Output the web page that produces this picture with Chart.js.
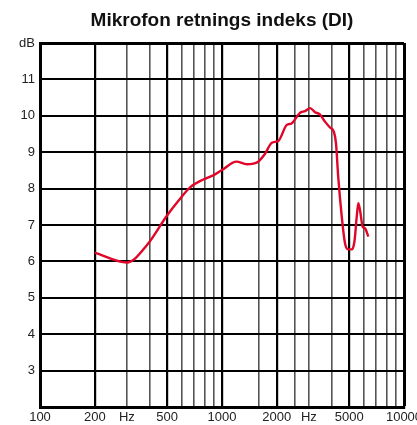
<!DOCTYPE html>
<html>
<head>
<meta charset="utf-8">
<script src="https://cdn.jsdelivr.net/npm/chart.js@4/dist/chart.umd.min.js"></script>
<style>
  html, body { margin: 0; padding: 0; background: #fff; }
  #wrap { width: 417px; height: 425px; }
</style>
</head>
<body>
<div id="wrap"><canvas id="diChart" width="417" height="425"></canvas></div>
<script>
'use strict';

// ── data ──
const freqHz = [200, 300, 390, 500, 590, 670, 790, 900, 1000, 1200, 1370, 1580, 1720, 1880,
                2040, 2270, 2410, 2680, 2860, 3050, 3240, 3450, 3680, 3920, 4120, 4230, 4350,
                4550, 4740, 4950, 5160, 5340, 5500, 5610, 5730, 5930, 6100, 6370];
const diDb   = [6.24, 5.97, 6.47, 7.27, 7.73, 8.04, 8.25, 8.37, 8.51, 8.74, 8.67, 8.74, 8.95, 9.26,
                9.31, 9.75, 9.79, 10.08, 10.13, 10.21, 10.10, 10.04, 9.84, 9.68, 9.56, 9.24, 8.33,
                7.23, 6.50, 6.33, 6.33, 6.54, 7.23, 7.60, 7.41, 6.95, 6.91, 6.68];

// vertical grid positions, and the labels printed under them
const xGrid   = [100, 200, 300, 400, 500, 600, 700, 800, 900, 1000, 1600, 2000, 2500,
                 3000, 4000, 5000, 6000, 7000, 8000, 9000, 10000];
const xLabels = { 100: '100', 200: '200', 300: 'Hz', 500: '500', 1000: '1000',
                  2000: '2000', 3000: 'Hz', 5000: '5000', 10000: '10000' };
const xMajor  = [100, 200, 500, 1000, 2000, 5000, 10000];
const yLabels = { 3: '3', 4: '4', 5: '5', 6: '6', 7: '7', 8: '8', 9: '9', 10: '10', 11: '11', 12: 'dB' };

const FONT = 'Liberation Sans, Arial, sans-serif';

new Chart(document.getElementById('diChart').getContext('2d'), {
  type: 'line',
  data: {
    datasets: [{
      data: freqHz.map((f, i) => ({ x: f, y: diDb[i] })),
      borderColor: '#e0062a',
      borderWidth: 2.4,
      pointRadius: 0,
      fill: false,
      cubicInterpolationMode: 'monotone',
    }],
  },
  options: {
    responsive: false,
    animation: false,
    layout: { padding: { top: 0, right: 13, left: 0, bottom: 0 } },
    plugins: {
      legend: { display: false },
      tooltip: { enabled: false },
      title: {
        display: true,
        fullSize: false,
        text: 'Mikrofon retnings indeks (DI)',
        color: '#111',
        font: { family: FONT, size: 19, weight: 'bold' },
        padding: { top: 9.5, bottom: 10.7 },
      },
    },
    scales: {
      x: {
        type: 'logarithmic',
        min: 100,
        max: 10000,
        afterBuildTicks: (s) => { s.ticks = xGrid.map(v => ({ value: v })); },
        afterFit: (s) => { s.height = 18; s.paddingLeft = 0; s.paddingRight = 0; },
        ticks: {
          autoSkip: false,
          maxRotation: 0,
          padding: 3,
          color: '#222',
          font: { family: FONT, size: 13 },
          callback: (v) => xLabels[v] || '',
        },
        grid: {
          drawTicks: false,
          color: (c) => xMajor.includes(c.tick && c.tick.value) ? '#000' : '#555',
          lineWidth: (c) => {
            const v = c.tick && c.tick.value;
            if (v === 10000) return 3;
            return xMajor.includes(v) ? 2.2 : 1.6;
          },
        },
        border: { display: true, color: '#000', width: 3 },
      },
      y: {
        min: 2,
        max: 12,
        afterFit: (s) => { s.width = 40; s.paddingTop = 0; s.paddingBottom = 0; },
        ticks: {
          stepSize: 1,
          padding: 5,
          color: '#222',
          font: { family: FONT, size: 13 },
          callback: (v) => yLabels[v] || '',
        },
        grid: {
          drawTicks: false,
          color: '#000',
          lineWidth: (c) => (c.tick && c.tick.value === 12) ? 3 : 2,
        },
        border: { display: true, color: '#000', width: 3 },
      },
    },
  },
});
</script>
</body>
</html>
